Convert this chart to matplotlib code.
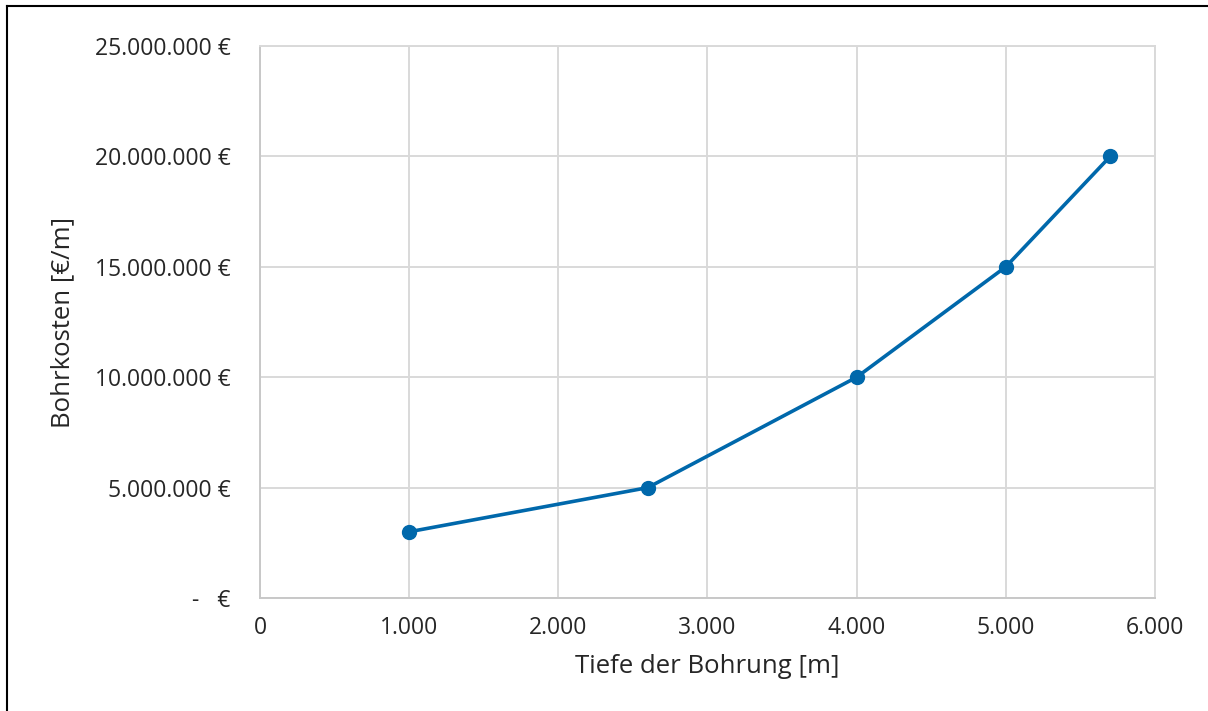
import matplotlib.pyplot as plt
from matplotlib.lines import Line2D
from matplotlib.ticker import FuncFormatter

# Bohrkosten in Abhaengigkeit der Tiefe
depth_m = [1000, 2600, 4000, 5000, 5700]
cost_eur = [3000000, 5000000, 10000000, 15000000, 20000000]

x_ticks = [0, 1000, 2000, 3000, 4000, 5000, 6000]
y_ticks = [0, 5000000, 10000000, 15000000, 20000000, 25000000]

plt.rcParams['font.family'] = ['Open Sans', 'DejaVu Sans']
text_color = '#262626'
grid_color = '#d9d9d9'
line_color = '#0068ab'


def fmt_thousands(v):
    return f"{int(round(v)):,}".replace(",", ".")


def euro_fmt(v, pos):
    if v == 0:
        return "-   €"
    return fmt_thousands(v) + " €"


fig = plt.figure(figsize=(12.08, 7.11), dpi=100)
ax = fig.add_axes([0.2152, 0.1589, 0.7409, 0.7764])

ax.plot(depth_m, cost_eur, color=line_color, linewidth=2.6,
        marker='o', markersize=10, zorder=3)

ax.set_xlim(0, 6000)
ax.set_ylim(0, 25000000)
ax.set_xticks(x_ticks)
ax.set_yticks(y_ticks)
ax.xaxis.set_major_formatter(FuncFormatter(lambda v, p: fmt_thousands(v)))
ax.yaxis.set_major_formatter(FuncFormatter(euro_fmt))

ax.grid(True, color=grid_color, linewidth=1.4)
ax.set_axisbelow(True)
for s in ax.spines.values():
    s.set_color(grid_color)
    s.set_linewidth(1.4)
ax.spines['left'].set_color('#c8c8c8')
ax.spines['bottom'].set_color('#c8c8c8')

ax.tick_params(axis='both', length=0, labelsize=16.5, colors=text_color, pad=13)
ax.tick_params(axis='y', pad=21)

ax.set_xlabel("Tiefe der Bohrung [m]", fontsize=18.5, color=text_color, labelpad=10)
ax.set_ylabel("Bohrkosten [€/m]", fontsize=18.5, color=text_color, labelpad=14)

# Rahmen um das Diagramm (links und oben sichtbar)
fig.add_artist(Line2D([7 / 1208, 7 / 1208], [0, 1 - 6 / 711],
                      transform=fig.transFigure, color='black', linewidth=1.5))
fig.add_artist(Line2D([7 / 1208, 1], [1 - 6 / 711, 1 - 6 / 711],
                      transform=fig.transFigure, color='black', linewidth=1.5))

fig.savefig("out.png", dpi=100)
